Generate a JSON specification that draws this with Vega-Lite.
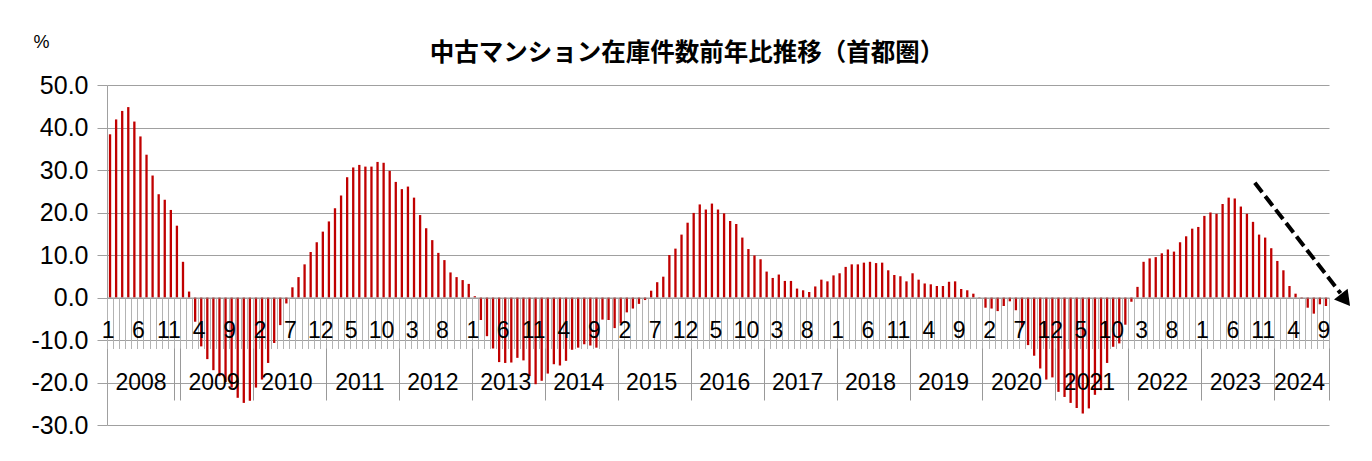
{
  "$schema": "https://vega.github.io/schema/vega-lite/v6.json",
  "width": 1222,
  "height": 340,
  "autosize": {"type": "none"},
  "padding": {"left": 107, "top": 85, "right": 43, "bottom": 36},
  "background": "white",
  "config": {"view": {"stroke": null}, "font": "Liberation Sans"},
  "title": {"text": "中古マンション在庫件数前年比推移（首都圏）", "font": "Noto Sans CJK JP", "fontWeight": "bold", "fontSize": 24.5, "anchor": "middle", "frame": "group", "dx": -31, "offset": -33, "color": "black"},
  "datasets": {
    "inv": [
      {"i":0,"v":38.4},{"i":1,"v":41.9},{"i":2,"v":43.9},{"i":3,"v":44.8},{"i":4,"v":41.4},{"i":5,"v":37.9},{"i":6,"v":33.6},{"i":7,"v":28.7},{"i":8,"v":24.3},{"i":9,"v":23.0},{"i":10,"v":20.6},{"i":11,"v":16.9},
      {"i":12,"v":8.4},{"i":13,"v":1.4},{"i":14,"v":-5.7},{"i":15,"v":-11.5},{"i":16,"v":-14.5},{"i":17,"v":-17.1},{"i":18,"v":-18.5},{"i":19,"v":-19.9},{"i":20,"v":-21.2},{"i":21,"v":-23.6},{"i":22,"v":-24.8},{"i":23,"v":-24.3},
      {"i":24,"v":-21.2},{"i":25,"v":-19.3},{"i":26,"v":-15.4},{"i":27,"v":-10.7},{"i":28,"v":-6.5},{"i":29,"v":-1.4},{"i":30,"v":2.4},{"i":31,"v":4.8},{"i":32,"v":7.8},{"i":33,"v":10.7},{"i":34,"v":13.0},{"i":35,"v":15.5},
      {"i":36,"v":17.9},{"i":37,"v":21.0},{"i":38,"v":24.0},{"i":39,"v":28.3},{"i":40,"v":30.6},{"i":41,"v":31.2},{"i":42,"v":30.8},{"i":43,"v":30.8},{"i":44,"v":31.9},{"i":45,"v":31.7},{"i":46,"v":29.8},{"i":47,"v":27.2},
      {"i":48,"v":25.5},{"i":49,"v":26.1},{"i":50,"v":23.5},{"i":51,"v":19.4},{"i":52,"v":16.3},{"i":53,"v":13.5},{"i":54,"v":10.5},{"i":55,"v":8.8},{"i":56,"v":5.9},{"i":57,"v":4.8},{"i":58,"v":4.1},{"i":59,"v":3.2},
      {"i":60,"v":0.3},{"i":61,"v":-5.3},{"i":62,"v":-9.1},{"i":63,"v":-12.0},{"i":64,"v":-15.2},{"i":65,"v":-15.4},{"i":66,"v":-15.3},{"i":67,"v":-14.2},{"i":68,"v":-14.8},{"i":69,"v":-18.5},{"i":70,"v":-20.4},{"i":71,"v":-19.6},
      {"i":72,"v":-17.9},{"i":73,"v":-15.7},{"i":74,"v":-16.0},{"i":75,"v":-14.9},{"i":76,"v":-12.3},{"i":77,"v":-11.8},{"i":78,"v":-11.0},{"i":79,"v":-11.3},{"i":80,"v":-11.8},{"i":81,"v":-5.2},{"i":82,"v":-5.3},{"i":83,"v":-7.2},
      {"i":84,"v":-6.1},{"i":85,"v":-3.5},{"i":86,"v":-2.6},{"i":87,"v":-1.5},{"i":88,"v":-0.6},{"i":89,"v":1.6},{"i":90,"v":3.6},{"i":91,"v":4.9},{"i":92,"v":10.0},{"i":93,"v":11.5},{"i":94,"v":14.8},{"i":95,"v":17.6},
      {"i":96,"v":19.9},{"i":97,"v":21.9},{"i":98,"v":20.7},{"i":99,"v":22.1},{"i":100,"v":20.7},{"i":101,"v":19.8},{"i":102,"v":18.0},{"i":103,"v":17.3},{"i":104,"v":14.1},{"i":105,"v":11.4},{"i":106,"v":9.9},{"i":107,"v":9.0},
      {"i":108,"v":6.1},{"i":109,"v":4.6},{"i":110,"v":5.4},{"i":111,"v":3.9},{"i":112,"v":3.9},{"i":113,"v":2.1},{"i":114,"v":1.7},{"i":115,"v":1.3},{"i":116,"v":2.6},{"i":117,"v":4.2},{"i":118,"v":3.8},{"i":119,"v":5.2},
      {"i":120,"v":5.7},{"i":121,"v":7.2},{"i":122,"v":7.8},{"i":123,"v":7.8},{"i":124,"v":8.2},{"i":125,"v":8.4},{"i":126,"v":8.1},{"i":127,"v":8.2},{"i":128,"v":6.4},{"i":129,"v":5.3},{"i":130,"v":5.0},{"i":131,"v":3.8},
      {"i":132,"v":5.7},{"i":133,"v":4.2},{"i":134,"v":3.3},{"i":135,"v":3.1},{"i":136,"v":2.7},{"i":137,"v":2.7},{"i":138,"v":3.7},{"i":139,"v":3.8},{"i":140,"v":2.0},{"i":141,"v":1.7},{"i":142,"v":0.9},{"i":143,"v":-0.1},
      {"i":144,"v":-2.4},{"i":145,"v":-2.6},{"i":146,"v":-3.2},{"i":147,"v":-2.0},{"i":148,"v":-0.9},{"i":149,"v":-3.0},{"i":150,"v":-7.0},{"i":151,"v":-11.2},{"i":152,"v":-13.7},{"i":153,"v":-16.7},{"i":154,"v":-19.3},{"i":155,"v":-18.8},
      {"i":156,"v":-22.2},{"i":157,"v":-23.4},{"i":158,"v":-24.8},{"i":159,"v":-26.0},{"i":160,"v":-27.3},{"i":161,"v":-26.1},{"i":162,"v":-22.9},{"i":163,"v":-21.8},{"i":164,"v":-15.4},{"i":165,"v":-11.6},{"i":166,"v":-10.8},{"i":167,"v":-6.4},
      {"i":168,"v":-1.0},{"i":169,"v":2.5},{"i":170,"v":8.4},{"i":171,"v":9.2},{"i":172,"v":9.5},{"i":173,"v":10.4},{"i":174,"v":11.3},{"i":175,"v":10.8},{"i":176,"v":13.0},{"i":177,"v":14.4},{"i":178,"v":16.2},{"i":179,"v":16.6},
      {"i":180,"v":19.2},{"i":181,"v":20.0},{"i":182,"v":19.7},{"i":183,"v":22.0},{"i":184,"v":23.5},{"i":185,"v":23.3},{"i":186,"v":21.4},{"i":187,"v":19.7},{"i":188,"v":17.8},{"i":189,"v":14.8},{"i":190,"v":14.1},{"i":191,"v":11.6},
      {"i":192,"v":8.6},{"i":193,"v":6.4},{"i":194,"v":2.7},{"i":195,"v":0.9},{"i":196,"v":-0.2},{"i":197,"v":-2.4},{"i":198,"v":-3.8},{"i":199,"v":-1.6},{"i":200,"v":-2.0}
    ],
    "arrow": [{"x1": 188.3, "y1": 27.0, "x2": 202.4, "y2": 1.0}],
    "arrowhead": [{"x": 203.2, "y": -0.6}]
  },
  "layer": [
    {
      "data": {"name": "inv"},
      "mark": {"type": "bar", "color": "#c00000", "width": {"band": 0.38}},
      "encoding": {
        "x": {"field": "i", "type": "ordinal", "scale": {"paddingInner": 0, "paddingOuter": 0},
          "axis": {"orient": "bottom", "offset": -127.5, "tickBand": "extent", "tickSize": 51, "tickColor": "#b3b3b3", "tickWidth": 1, "domainColor": "#999999", "labelExpr": "datum.value >= 0 && datum.value % 5 == 0 ? toString(datum.value % 12 + 1) : ''", "labelOffset": -2.5, "labelPadding": -18, "labelBaseline": "middle", "labelAngle": 0, "labelFontSize": 23, "labelColor": "black", "labelOverlap": false, "labelBound": false, "labelFlush": false, "title": null, "zindex": 1, "grid": false}},
        "y": {"field": "v", "type": "quantitative", "title": "%", "scale": {"domain": [-30, 50], "nice": false, "zero": false},
          "axis": {"values": [-30, -20, -10, 0, 10, 20, 30, 40, 50], "labelExpr": "replace(format(datum.value, '.1f'), '−', '-')", "grid": true, "gridColor": "#a0a0a0", "tickSize": 10, "tickColor": "#a0a0a0", "domainColor": "#a0a0a0", "labelFontSize": 25, "labelPadding": 9, "labelColor": "black", "titleAngle": 0, "titleX": -74, "titleY": -43, "titleAlign": "left", "titleBaseline": "middle", "titleFontSize": 18, "titleFontWeight": "normal", "titleColor": "black"}}
      }
    },
    {
      "data": {"name": "inv"},
      "mark": {"type": "bar", "opacity": 0},
      "encoding": {
        "x": {"field": "i", "type": "ordinal", "scale": {"paddingInner": 0, "paddingOuter": 0},
          "axis": {"orient": "bottom", "offset": -77, "values": [11, 23, 35, 47, 59, 71, 83, 95, 107, 119, 131, 143, 155, 167, 179, 191, 200], "tickBand": "extent", "tickSize": 52, "tickColor": "#999999", "tickWidth": 1, "domain": false, "labelExpr": "datum.value >= 0 ? toString(floor(datum.value / 12) + 2008) : ''", "labelOffset": {"condition": {"test": "datum.value == 200", "value": -27}, "value": -36.4}, "labelPadding": -18, "labelBaseline": "middle", "labelAngle": 0, "labelFontSize": 23, "labelColor": "black", "labelOverlap": false, "labelBound": false, "labelFlush": false, "title": null, "zindex": 1, "grid": false}},
        "y": {"field": "v", "type": "quantitative", "title": "%", "scale": {"domain": [-30, 50], "nice": false, "zero": false}}
      }
    },
    {
      "data": {"name": "arrow"},
      "mark": {"type": "rule", "strokeWidth": 4, "strokeDash": [12, 5], "color": "black"},
      "encoding": {
        "x": {"field": "x1", "type": "quantitative", "scale": {"domain": [-0.5, 200.5], "nice": false, "zero": false}, "axis": null},
        "x2": {"field": "x2"},
        "y": {"field": "y1", "type": "quantitative", "title": "%", "scale": {"domain": [-30, 50], "nice": false, "zero": false}},
        "y2": {"field": "y2"}
      }
    },
    {
      "data": {"name": "arrowhead"},
      "mark": {"type": "point", "shape": "triangle-up", "filled": true, "color": "black", "opacity": 1, "size": 300, "angle": 142},
      "encoding": {
        "x": {"field": "x", "type": "quantitative", "scale": {"domain": [-0.5, 200.5], "nice": false, "zero": false}, "axis": null},
        "y": {"field": "y", "type": "quantitative", "title": "%", "scale": {"domain": [-30, 50], "nice": false, "zero": false}}
      }
    }
  ],
  "resolve": {"scale": {"x": "independent"}, "axis": {"x": "independent"}}
}
